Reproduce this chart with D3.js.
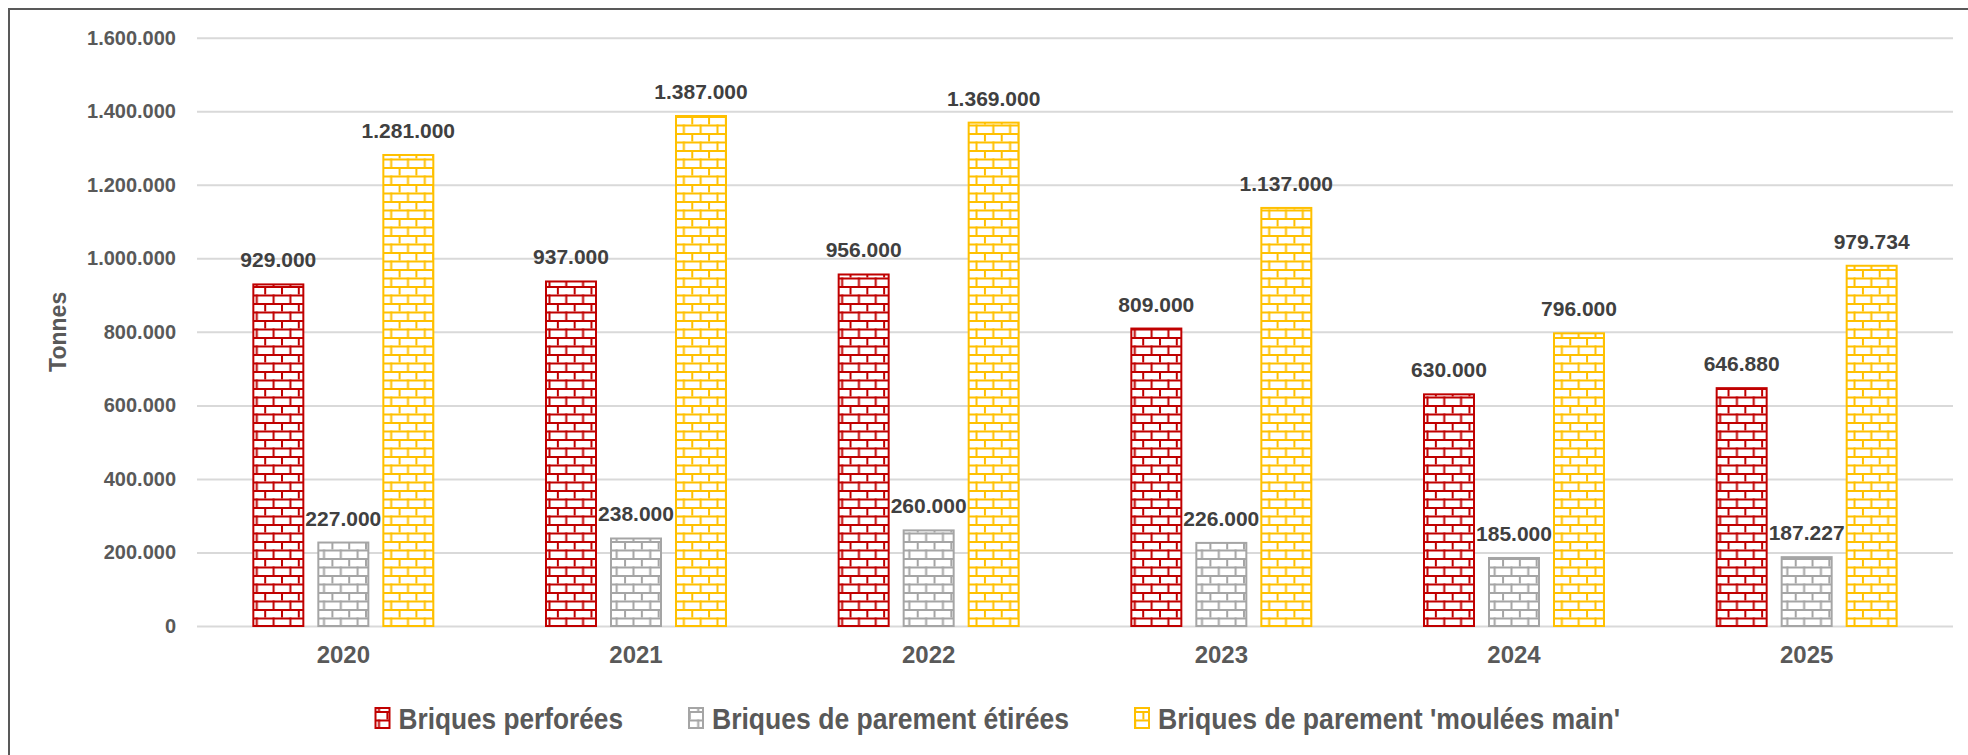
<!DOCTYPE html>
<html><head><meta charset="utf-8">
<script src="https://cdn.jsdelivr.net/npm/d3@7"></script>
<style>
html,body{margin:0;padding:0;background:#fff;}
svg{display:block;}
</style></head>
<body>
<svg id="chart" width="1968" height="755"></svg>
<script>
const years = ["2020","2021","2022","2023","2024","2025"];
const seriesNames = ["Briques perforées","Briques de parement étirées","Briques de parement 'moulées main'"];
const perforees = [929000, 937000, 956000, 809000, 630000, 646880];
const etirees = [227000, 238000, 260000, 226000, 185000, 187227];
const moulees = [1281000, 1387000, 1369000, 1137000, 796000, 979734];
const yTicks = [0, 200000, 400000, 600000, 800000, 1000000, 1200000, 1400000, 1600000];
const colors = ["#C00000", "#A5A5A5", "#FFC000"];
const seriesValues = [perforees, etirees, moulees];

const svg = d3.select("#chart");
const fmt = d3.formatLocale({decimal: ",", thousands: ".", grouping: [3], currency: ["", "€"]}).format(",");

// border
svg.append("rect").attr("x", 9).attr("y", 9).attr("width", 2100).attr("height", 900)
  .attr("fill", "none").attr("stroke", "#595959").attr("stroke-width", 2);

const plotL = 197, plotR = 1953, plotT = 37.7, plotB = 626;
const y = d3.scaleLinear().domain([0, 1600000]).range([plotB, plotT]);
const x0 = d3.scaleBand().domain(years).range([plotL, plotR]);
const groupW = 182;
const x1 = d3.scaleBand().domain(seriesNames)
  .range([(x0.bandwidth() - groupW) / 2, (x0.bandwidth() + groupW) / 2])
  .paddingInner(0.2).paddingOuter(0);

// patterns
const defs = svg.append("defs");
const tw = 16.8, th = 17.0;
colors.forEach((c, i) => {
  const p = defs.append("pattern").attr("id", "brick" + i)
    .attr("patternUnits", "userSpaceOnUse")
    .attr("width", tw).attr("height", th)
    .attr("x", 0).attr("y", plotB % th);
  p.append("rect").attr("width", tw).attr("height", th).attr("fill", "#fff");
  p.append("rect").attr("x", 0).attr("y", 0).attr("width", tw).attr("height", 2).attr("fill", c);
  p.append("rect").attr("x", 0).attr("y", th / 2).attr("width", tw).attr("height", 2).attr("fill", c);
  p.append("rect").attr("x", 0).attr("y", 0).attr("width", 2).attr("height", th / 2).attr("fill", c);
  p.append("rect").attr("x", tw / 2).attr("y", th / 2).attr("width", 2).attr("height", th / 2).attr("fill", c);
});

// y axis gridlines + labels
const yAxis = d3.axisLeft(y).tickValues(yTicks).tickFormat(fmt).tickSize(-(plotR - plotL)).tickPadding(21);
const gy = svg.append("g").attr("transform", `translate(${plotL},0)`).call(yAxis);
gy.select(".domain").remove();
gy.selectAll(".tick line").attr("stroke", "#D9D9D9").attr("stroke-width", 2);
gy.selectAll(".tick text").attr("fill", "#595959").attr("font-family", "Liberation Sans, Arial, sans-serif")
  .attr("font-weight", "bold").attr("font-size", 20);

// bars
const groups = svg.append("g").selectAll("g").data(years).join("g")
  .attr("transform", d => `translate(${x0(d)},0)`);
seriesNames.forEach((s, si) => {
  groups.append("rect")
    .attr("x", x1(s) + 1).attr("width", x1.bandwidth() - 2)
    .attr("y", (d, i) => y(seriesValues[si][i]))
    .attr("height", (d, i) => plotB - y(seriesValues[si][i]))
    .attr("fill", `url(#brick${si})`).attr("stroke", colors[si]).attr("stroke-width", 2);
  groups.append("text")
    .attr("x", x1(s) + x1.bandwidth() / 2)
    .attr("y", (d, i) => y(seriesValues[si][i]) - 17)
    .attr("text-anchor", "middle")
    .attr("font-family", "Liberation Sans, Arial, sans-serif").attr("font-weight", "bold")
    .attr("font-size", 21).attr("fill", "#404040")
    .text((d, i) => fmt(seriesValues[si][i]));
});

// x axis labels
const xAxis = d3.axisBottom(x0).tickSize(0).tickPadding(20);
const gx = svg.append("g").attr("transform", `translate(0,${plotB})`).call(xAxis);
gx.select(".domain").remove();
gx.selectAll(".tick text").attr("fill", "#595959").attr("font-family", "Liberation Sans, Arial, sans-serif")
  .attr("font-weight", "bold").attr("font-size", 24);

// y title
svg.append("text").attr("transform", `translate(66,${(plotT + plotB) / 2}) rotate(-90)`)
  .attr("text-anchor", "middle").attr("fill", "#595959")
  .attr("font-family", "Liberation Sans, Arial, sans-serif").attr("font-weight", "bold").attr("font-size", 23)
  .text("Tonnes");

// legend
const legendTargets = [224.5, 357, 462];
const lg = svg.append("g");
let lx = 375.5;
const ly = 729;
seriesNames.forEach((s, i) => {
  lg.append("rect").attr("x", lx).attr("y", ly - 21).attr("width", 14).attr("height", 20)
    .attr("fill", `url(#brick${i})`).attr("stroke", colors[i]).attr("stroke-width", 2);
  const t = lg.append("text").attr("x", lx + 23).attr("y", ly)
    .attr("fill", "#595959").attr("font-family", "'Liberation Sans Narrow', 'Arial Narrow', 'Liberation Sans', sans-serif")
    .attr("font-weight", "bold").attr("font-size", 30).text(s);
  const w = t.node().getComputedTextLength();
  if (Math.abs(w - legendTargets[i]) > 4) {
    t.attr("textLength", legendTargets[i]).attr("lengthAdjust", "spacingAndGlyphs");
  }
  lx += 23 + legendTargets[i] + 66;
});
</script>
</body></html>
